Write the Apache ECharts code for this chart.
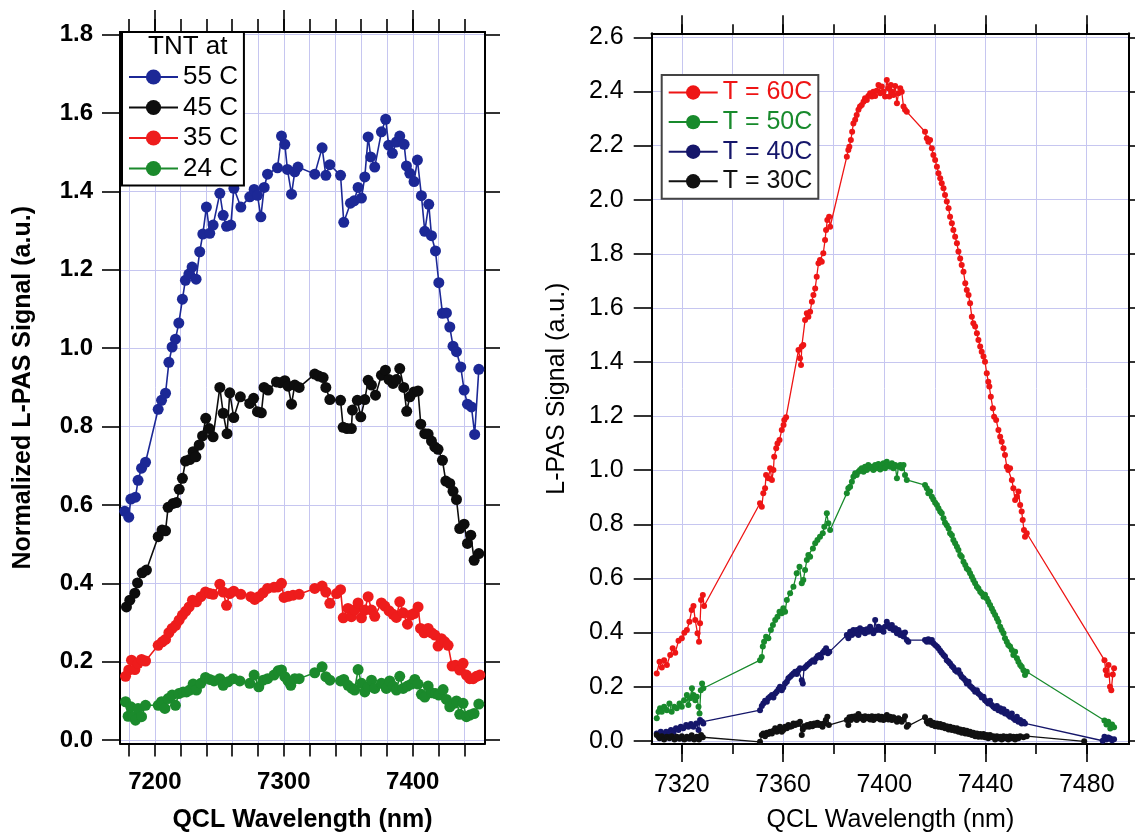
<!DOCTYPE html>
<html><head><meta charset="utf-8">
<script src="https://cdn.jsdelivr.net/npm/echarts@6/dist/echarts.min.js"></script>
<style>html,body{margin:0;padding:0;background:#fff}#c{width:1135px;height:832px}</style>
</head><body><div id="c"></div>
<script>
// ---------- tick / label values ----------
const leftXTicks = [7180,7200,7220,7240,7260,7280,7300,7320,7340,7360,7380,7400,7420,7440];
const leftXLabels = [7200,7300,7400];
const leftYTicks = [0,0.2,0.4,0.6,0.8,1.0,1.2,1.4,1.6,1.8];
const rightXTicks = [7320,7340,7360,7380,7400,7420,7440,7460,7480];
const rightXLabels = [7320,7360,7400,7440,7480];
const rightYTicks = [0,0.2,0.4,0.6,0.8,1.0,1.2,1.4,1.6,1.8,2.0,2.2,2.4,2.6];

// ---------- left panel: TNT at ... ----------
const leftNames = ['55 C','45 C','35 C','24 C'];
const tnt55 = [[7176.7,0.584],[7179.8,0.569],[7181.4,0.615],[7185,0.620],[7187,0.663],[7189.7,0.694],[7192.8,0.709],[7202.6,0.844],[7205.2,0.867],[7208.3,0.885],[7210.9,0.964],[7213.4,1.003],[7216,1.023],[7218.6,1.064],[7221.4,1.125],[7223.7,1.173],[7226.4,1.189],[7228.9,1.207],[7232,1.176],[7234.8,1.246],[7237.2,1.291],[7240,1.36],[7242.6,1.293],[7245.2,1.314],[7250.4,1.395],[7253,1.339],[7255.6,1.311],[7258.9,1.314],[7261.3,1.408],[7266.7,1.36],[7273.6,1.386],[7277,1.405],[7279.6,1.39],[7282.2,1.335],[7284.8,1.41],[7287.4,1.444],[7295.1,1.46],[7298.2,1.541],[7300.8,1.52],[7302.8,1.456],[7306,1.393],[7308.5,1.45],[7311,1.462],[7324,1.444],[7329.7,1.511],[7332.6,1.441],[7335.7,1.468],[7344,1.441],[7346.5,1.321],[7351.7,1.37],[7354.5,1.376],[7357.6,1.41],[7360.2,1.383],[7362.8,1.437],[7365.4,1.539],[7367.4,1.488],[7370.5,1.462],[7375.7,1.552],[7379,1.584],[7381.3,1.518],[7384.2,1.497],[7387.3,1.526],[7389.9,1.541],[7393.3,1.52],[7395.1,1.465],[7397.7,1.446],[7401,1.425],[7403.6,1.48],[7406.7,1.389],[7409.3,1.298],[7412.4,1.367],[7414.5,1.287],[7417.6,1.248],[7420.2,1.167],[7423,1.089],[7426.1,1.09],[7428.7,1.054],[7431.2,1.005],[7433.9,0.991],[7437.2,0.952],[7439.8,0.893],[7442.4,0.857],[7445.5,0.85],[7448,0.78],[7451.2,0.946]];
const tnt45 = [[7178,0.34],[7180.6,0.357],[7184.5,0.375],[7186.6,0.401],[7190.2,0.427],[7193.5,0.434],[7202.6,0.519],[7205.6,0.536],[7208.3,0.534],[7210.3,0.594],[7214.2,0.604],[7216.8,0.606],[7218.9,0.64],[7221.4,0.668],[7223.8,0.712],[7227.1,0.716],[7229.7,0.736],[7231.8,0.723],[7234.4,0.753],[7237,0.776],[7239.5,0.821],[7242.1,0.795],[7245.2,0.774],[7250.4,0.9],[7253,0.834],[7256,0.782],[7258.1,0.886],[7261.2,0.823],[7266.3,0.876],[7273.6,0.859],[7276.6,0.872],[7279.6,0.838],[7282.6,0.835],[7284.7,0.9],[7287.8,0.893],[7294.3,0.914],[7297.3,0.912],[7300.8,0.917],[7303.3,0.903],[7306,0.857],[7308.5,0.906],[7311.9,0.9],[7324,0.934],[7327,0.929],[7330.5,0.925],[7332.6,0.9],[7335.7,0.869],[7344,0.867],[7346,0.798],[7349,0.795],[7352.4,0.795],[7353.2,0.842],[7357,0.867],[7359.7,0.825],[7362.8,0.869],[7365.4,0.918],[7368,0.906],[7371.1,0.88],[7375.7,0.931],[7378.8,0.944],[7381.6,0.92],[7384.7,0.91],[7387.3,0.92],[7389.9,0.948],[7393,0.9],[7395.3,0.839],[7397.7,0.876],[7400.8,0.888],[7404.1,0.891],[7406.2,0.806],[7409.3,0.782],[7411.9,0.781],[7414.5,0.763],[7417.1,0.748],[7419.6,0.742],[7423,0.714],[7425.6,0.661],[7428.7,0.655],[7431.2,0.635],[7433.9,0.614],[7436.4,0.54],[7439.8,0.551],[7442.4,0.502],[7445,0.523],[7447.6,0.459],[7451.2,0.476]];
const tnt35 = [[7177.3,0.163],[7179.8,0.179],[7181.9,0.204],[7184.5,0.18],[7187,0.196],[7189.7,0.206],[7192.8,0.202],[7202.6,0.242],[7205.8,0.251],[7208.3,0.257],[7210.9,0.274],[7213.4,0.285],[7216.2,0.293],[7218.8,0.306],[7221.4,0.319],[7224,0.329],[7226.6,0.34],[7229.2,0.357],[7232.3,0.353],[7235.7,0.366],[7239.3,0.378],[7242.6,0.374],[7245.2,0.372],[7250.4,0.398],[7253,0.378],[7255.6,0.344],[7258.1,0.374],[7261.2,0.38],[7266.7,0.372],[7274.4,0.366],[7277.5,0.359],[7280.6,0.366],[7283.9,0.376],[7287.4,0.387],[7292.4,0.39],[7295.5,0.391],[7298.2,0.4],[7300.2,0.364],[7303.3,0.367],[7307.2,0.37],[7311.9,0.372],[7324,0.387],[7329.7,0.393],[7332.6,0.378],[7335.7,0.349],[7340.9,0.374],[7344,0.384],[7346.1,0.312],[7349.8,0.336],[7352.4,0.315],[7354.9,0.332],[7357.6,0.35],[7360.2,0.312],[7362.8,0.332],[7365.4,0.366],[7368,0.332],[7370.5,0.316],[7375.7,0.35],[7378.3,0.342],[7381.6,0.33],[7384.7,0.321],[7387.3,0.313],[7389.9,0.353],[7392.5,0.325],[7395.9,0.296],[7398.5,0.319],[7401,0.323],[7404.1,0.34],[7406,0.285],[7408.8,0.274],[7411.9,0.285],[7414.5,0.274],[7417.1,0.268],[7419.6,0.24],[7422.2,0.259],[7424.8,0.251],[7427.4,0.242],[7430.5,0.189],[7433.1,0.191],[7436.4,0.179],[7439,0.196],[7441.6,0.166],[7444.2,0.157],[7446.8,0.157],[7449.4,0.163],[7452,0.166]];
const tnt24 = [[7177.3,0.098],[7179.3,0.061],[7181.4,0.085],[7183.2,0.06],[7185,0.051],[7187,0.081],[7189.7,0.06],[7192.8,0.089],[7202.6,0.089],[7205.2,0.098],[7207.8,0.081],[7210.3,0.106],[7213.4,0.115],[7216,0.089],[7218.6,0.119],[7222,0.123],[7224.6,0.123],[7227.1,0.128],[7229.7,0.143],[7232.3,0.128],[7235.7,0.145],[7239.3,0.16],[7242.6,0.155],[7245.9,0.151],[7250.4,0.157],[7253,0.14],[7256.8,0.149],[7260.7,0.157],[7265.9,0.151],[7273.6,0.145],[7277,0.166],[7280.6,0.136],[7284,0.153],[7287.4,0.157],[7292.4,0.166],[7295.6,0.177],[7298.2,0.179],[7300.8,0.162],[7303.3,0.151],[7305.4,0.14],[7308.5,0.157],[7311.9,0.157],[7324,0.172],[7329.7,0.187],[7332.6,0.162],[7335.7,0.153],[7344,0.151],[7346.5,0.155],[7349.8,0.14],[7352.9,0.132],[7354.9,0.128],[7357.6,0.18],[7360.2,0.145],[7362.8,0.123],[7365.4,0.136],[7368,0.153],[7370.5,0.132],[7375.7,0.145],[7379.5,0.132],[7382.1,0.151],[7384.7,0.138],[7387.3,0.128],[7389.9,0.163],[7392.5,0.132],[7395.9,0.138],[7399,0.143],[7401.6,0.155],[7404.1,0.143],[7406.7,0.117],[7409.3,0.11],[7411.9,0.138],[7414.5,0.121],[7417.6,0.119],[7420.2,0.115],[7423.5,0.129],[7426.1,0.104],[7428.7,0.085],[7432,0.094],[7433.9,0.1],[7436.4,0.066],[7439,0.094],[7441.6,0.06],[7444.2,0.064],[7447.5,0.068],[7451.2,0.092]];

// ---------- right panel: T = ... ----------
const rightNames = ['T = 60C','T = 50C','T = 40C','T = 30C'];
const t60 = [[7310.1,0.249],[7311.2,0.292],[7312.1,0.271],[7313,0.298],[7314.1,0.28],[7315.4,0.317],[7316.4,0.342],[7317.4,0.325],[7318.7,0.37],[7320,0.379],[7321,0.399],[7322,0.409],[7323,0.44],[7323.9,0.483],[7324.6,0.498],[7325.3,0.446],[7326.2,0.397],[7326.8,0.366],[7327.2,0.434],[7327.6,0.52],[7328.3,0.539],[7328.8,0.498],[7350.9,0.878],[7351.6,0.865],[7352.2,0.915],[7352.9,0.933],[7353.3,0.982],[7354.2,0.97],[7354.9,1.007],[7355.6,0.964],[7356.2,1.001],[7356.5,1.05],[7357.3,1.081],[7357.8,1.099],[7358.6,1.112],[7359.5,1.149],[7360.2,1.167],[7360.5,1.186],[7361.2,1.196],[7366.1,1.444],[7366.7,1.414],[7367.1,1.389],[7367.4,1.457],[7368,1.463],[7368.7,1.555],[7369.4,1.58],[7370,1.567],[7370.7,1.586],[7371.4,1.623],[7372,1.648],[7372.7,1.672],[7373.3,1.715],[7374,1.765],[7374.6,1.777],[7375.3,1.771],[7375.9,1.802],[7376.6,1.851],[7377,1.888],[7377.5,1.925],[7378.2,1.937],[7378.6,1.9],[7385.2,2.159],[7385.8,2.184],[7386.2,2.196],[7386.8,2.221],[7387.3,2.251],[7387.8,2.282],[7388.5,2.295],[7389.1,2.313],[7389.8,2.332],[7390.4,2.344],[7391.1,2.35],[7391.8,2.362],[7392.4,2.375],[7393.1,2.368],[7393.7,2.383],[7394.4,2.393],[7395.1,2.381],[7395.7,2.399],[7396.4,2.383],[7397,2.403],[7397.7,2.424],[7398.4,2.393],[7399,2.418],[7399.7,2.399],[7400.3,2.381],[7401,2.442],[7401.6,2.412],[7402,2.381],[7402.6,2.424],[7403.1,2.399],[7403.6,2.387],[7404.3,2.42],[7405,2.356],[7405.6,2.393],[7406.3,2.412],[7406.9,2.399],[7407.6,2.344],[7408.2,2.332],[7408.9,2.325],[7416.1,2.251],[7416.8,2.227],[7417.4,2.214],[7418.1,2.221],[7418.8,2.19],[7419.4,2.165],[7420.1,2.147],[7420.8,2.122],[7421.4,2.098],[7422.1,2.079],[7422.7,2.061],[7423.4,2.042],[7424,2.017],[7424.7,1.993],[7425.4,1.968],[7426,1.937],[7426.7,1.913],[7427.3,1.888],[7428,1.863],[7428.7,1.839],[7429.3,1.808],[7430,1.783],[7430.6,1.759],[7431.3,1.734],[7432,1.691],[7432.6,1.666],[7433.3,1.648],[7433.9,1.617],[7434.6,1.567],[7435.2,1.543],[7435.9,1.531],[7436.6,1.506],[7437.2,1.481],[7437.9,1.457],[7438.5,1.438],[7439.2,1.42],[7439.8,1.401],[7440.5,1.358],[7441.1,1.327],[7441.5,1.309],[7442.1,1.272],[7442.9,1.229],[7443.4,1.198],[7444.2,1.186],[7445.1,1.149],[7445.8,1.124],[7446.4,1.105],[7447.1,1.081],[7447.7,1.056],[7448.4,1.013],[7449,1.001],[7449.7,1.007],[7450.4,0.964],[7451,0.933],[7451.7,0.89],[7452.4,0.902],[7453,0.921],[7453.7,0.871],[7454.3,0.847],[7454.7,0.816],[7455.2,0.779],[7455.6,0.754],[7456.3,0.767],[7487,0.298],[7487.5,0.261],[7488,0.243],[7488.6,0.28],[7489.2,0.2],[7489.7,0.187],[7490.3,0.245],[7490.8,0.268]];
const t50 = [[7310.1,0.083],[7310.8,0.107],[7311.4,0.12],[7312.1,0.107],[7313,0.126],[7314.1,0.113],[7315.1,0.138],[7316,0.107],[7317,0.126],[7318,0.12],[7319.1,0.138],[7320,0.126],[7320.9,0.15],[7322,0.169],[7322.6,0.132],[7323.3,0.157],[7324,0.194],[7324.6,0.169],[7325.3,0.15],[7325.9,0.163],[7326.6,0.126],[7327,0.101],[7327.5,0.187],[7328,0.212],[7328.5,0.194],[7350.9,0.298],[7351.6,0.31],[7352,0.348],[7352.5,0.366],[7353.3,0.384],[7354.2,0.379],[7355.2,0.409],[7356,0.428],[7356.9,0.446],[7357.8,0.458],[7358.6,0.477],[7359.5,0.471],[7360.1,0.49],[7360.8,0.477],[7361.5,0.52],[7362.8,0.545],[7364.1,0.569],[7365.4,0.619],[7366.5,0.643],[7367.4,0.582],[7368,0.594],[7368.7,0.631],[7369.4,0.668],[7370,0.687],[7370.7,0.68],[7371.8,0.711],[7372.7,0.73],[7373.6,0.742],[7374.6,0.754],[7375.7,0.767],[7376.3,0.791],[7377.3,0.841],[7377.9,0.804],[7378.6,0.779],[7385.2,0.915],[7385.8,0.933],[7386.5,0.939],[7387.2,0.957],[7387.8,0.976],[7388.5,0.989],[7389.1,0.982],[7389.8,0.994],[7390.4,1.001],[7391.1,1.007],[7391.8,0.994],[7392.4,1.013],[7393.1,1.001],[7393.7,1.019],[7394.4,1.007],[7395.1,1.013],[7395.7,1.001],[7396.4,1.019],[7397,1.007],[7397.7,1.023],[7398.4,1.003],[7399,1.016],[7399.7,1.026],[7400.3,1.007],[7401,1.031],[7401.6,1.019],[7402.3,1.013],[7403,1.026],[7403.6,1.007],[7404.3,1.019],[7405,0.97],[7405.6,1.013],[7406.3,1.019],[7406.9,1.007],[7407.6,1.019],[7408.2,0.982],[7408.9,0.964],[7416.1,0.945],[7416.8,0.933],[7417.4,0.915],[7418.1,0.921],[7418.8,0.902],[7419.4,0.892],[7420.1,0.88],[7420.8,0.871],[7421.4,0.859],[7422.1,0.847],[7422.7,0.841],[7423.4,0.822],[7424,0.806],[7424.7,0.797],[7425.4,0.785],[7426,0.767],[7426.7,0.76],[7427.3,0.742],[7428,0.73],[7428.7,0.717],[7429.3,0.705],[7430,0.687],[7430.6,0.68],[7431.3,0.662],[7432,0.65],[7432.6,0.637],[7433.3,0.631],[7433.9,0.619],[7434.6,0.606],[7435.2,0.594],[7435.9,0.582],[7436.6,0.569],[7437.2,0.563],[7437.9,0.551],[7438.5,0.545],[7439.2,0.532],[7439.8,0.54],[7440.5,0.526],[7441.1,0.514],[7441.8,0.502],[7442.5,0.489],[7443.1,0.477],[7443.8,0.465],[7444.5,0.452],[7445.1,0.44],[7445.8,0.421],[7446.4,0.409],[7447.1,0.397],[7447.7,0.379],[7448.4,0.366],[7449,0.354],[7449.7,0.348],[7450.4,0.335],[7451,0.317],[7451.7,0.329],[7452.4,0.305],[7453,0.292],[7453.7,0.28],[7454.3,0.274],[7455,0.261],[7455.6,0.243],[7456.3,0.255],[7487,0.075],[7487.8,0.06],[7488.5,0.07],[7489.3,0.045],[7490,0.06],[7490.8,0.05]];
const t40 = [[7310.1,0.027],[7310.8,0.015],[7311.7,0.033],[7312.7,0.025],[7313.8,0.033],[7314.7,0.021],[7315.7,0.04],[7316.7,0.03],[7317.7,0.046],[7318.7,0.04],[7319.6,0.052],[7320.6,0.046],[7321.7,0.058],[7322.6,0.052],[7323.6,0.062],[7324.6,0.052],[7325.7,0.064],[7326.6,0.04],[7327.2,0.077],[7328,0.07],[7328.5,0.064],[7350.9,0.113],[7351.6,0.128],[7352.2,0.138],[7352.9,0.148],[7353.6,0.144],[7354.2,0.157],[7354.9,0.163],[7355.6,0.169],[7356.2,0.16],[7356.9,0.175],[7357.5,0.181],[7358.2,0.19],[7358.8,0.2],[7359.5,0.187],[7360.1,0.197],[7360.8,0.212],[7361.5,0.218],[7362.1,0.231],[7362.8,0.237],[7363.5,0.243],[7364.1,0.249],[7364.8,0.255],[7365.4,0.247],[7366.1,0.261],[7366.7,0.268],[7367.4,0.224],[7367.8,0.212],[7368.3,0.268],[7369,0.274],[7369.6,0.28],[7370.4,0.286],[7371.1,0.292],[7371.8,0.298],[7372.4,0.292],[7373.1,0.305],[7373.7,0.313],[7374.4,0.317],[7375,0.308],[7375.7,0.325],[7376.3,0.333],[7377,0.342],[7377.7,0.323],[7378.3,0.329],[7385.2,0.391],[7385.8,0.379],[7386.5,0.403],[7387.2,0.391],[7387.8,0.409],[7388.5,0.397],[7389.1,0.409],[7389.8,0.391],[7390.4,0.416],[7391.1,0.403],[7391.8,0.409],[7392.4,0.397],[7393.1,0.412],[7393.7,0.403],[7394.4,0.421],[7395.1,0.409],[7395.7,0.397],[7396.4,0.446],[7397,0.409],[7397.7,0.421],[7398.4,0.409],[7399,0.416],[7399.7,0.403],[7400.3,0.421],[7401,0.44],[7401.6,0.428],[7402.3,0.416],[7403,0.428],[7403.6,0.409],[7404.3,0.416],[7405,0.397],[7405.6,0.409],[7406.3,0.391],[7406.9,0.397],[7407.6,0.385],[7408.2,0.4],[7408.9,0.372],[7409.5,0.366],[7416.1,0.372],[7416.8,0.366],[7417.4,0.375],[7418.1,0.366],[7418.8,0.372],[7419.4,0.36],[7420.1,0.354],[7420.8,0.348],[7421.4,0.342],[7422.1,0.333],[7422.7,0.325],[7423.4,0.317],[7424,0.311],[7424.7,0.298],[7425.4,0.292],[7426,0.286],[7426.7,0.276],[7427.3,0.271],[7428,0.261],[7428.7,0.255],[7429.3,0.261],[7430,0.247],[7430.6,0.237],[7431.3,0.231],[7432,0.224],[7432.6,0.212],[7433.3,0.218],[7433.9,0.202],[7434.6,0.197],[7435.2,0.19],[7435.9,0.181],[7436.6,0.187],[7437.2,0.175],[7437.9,0.169],[7438.5,0.16],[7439.2,0.163],[7439.8,0.15],[7440.5,0.144],[7441.1,0.138],[7441.8,0.148],[7442.5,0.132],[7443.1,0.126],[7443.8,0.12],[7444.5,0.128],[7445.1,0.113],[7445.8,0.12],[7446.4,0.107],[7447.1,0.116],[7447.7,0.101],[7448.4,0.107],[7449,0.095],[7449.7,0.089],[7450.4,0.101],[7451,0.083],[7451.7,0.077],[7452.4,0.089],[7453,0.07],[7453.7,0.077],[7454.3,0.064],[7455,0.07],[7455.6,0.064],[7486.3,0.0],[7487,0.015],[7487.8,0.005],[7488.5,0.012],[7489.3,0.008],[7490,0.002],[7490.8,0.006]];
const t30 = [[7310.1,0.021],[7311.2,0.009],[7312.1,0.017],[7313,0.005],[7314.1,0.015],[7315.1,0.009],[7316,0.017],[7317.1,0.005],[7318,0.015],[7319.1,0.007],[7320,0.017],[7321,0.005],[7322,0.015],[7323,0.007],[7323.9,0.02],[7324.9,0.005],[7325.9,0.015],[7326.8,0.005],[7327.6,0.021],[7328.3,0.013],[7350.9,-0.004],[7351.6,0.021],[7352.2,0.027],[7352.9,0.017],[7353.6,0.03],[7354.2,0.025],[7354.9,0.033],[7355.6,0.027],[7356.2,0.037],[7356.9,0.046],[7357.5,0.033],[7358.2,0.042],[7358.8,0.052],[7359.5,0.033],[7360.1,0.04],[7360.8,0.052],[7361.5,0.046],[7362.1,0.058],[7362.8,0.052],[7363.5,0.054],[7364.1,0.064],[7364.8,0.058],[7365.4,0.064],[7366.1,0.062],[7366.7,0.07],[7367.4,0.021],[7367.8,0.042],[7368.3,0.054],[7369,0.052],[7369.6,0.058],[7370.3,0.052],[7370.9,0.062],[7371.6,0.054],[7372.3,0.064],[7372.9,0.058],[7373.6,0.067],[7374.2,0.058],[7374.9,0.062],[7375.6,0.052],[7376.2,0.064],[7376.9,0.077],[7377.5,0.089],[7378.1,0.058],[7385.2,0.077],[7385.8,0.058],[7386.2,0.087],[7386.8,0.077],[7387.3,0.089],[7387.8,0.083],[7388.5,0.091],[7389.1,0.077],[7389.8,0.099],[7390.4,0.083],[7391.1,0.089],[7391.8,0.077],[7392.4,0.091],[7393.1,0.083],[7393.7,0.089],[7394.4,0.079],[7395.1,0.091],[7395.7,0.077],[7396.4,0.089],[7397,0.083],[7397.7,0.091],[7398.4,0.079],[7399,0.089],[7399.7,0.077],[7400.3,0.087],[7401,0.095],[7401.6,0.079],[7402.3,0.089],[7403,0.077],[7403.6,0.087],[7404.3,0.079],[7405,0.07],[7405.6,0.083],[7406.3,0.077],[7406.9,0.07],[7407.6,0.079],[7408.2,0.091],[7408.9,0.052],[7409.5,0.058],[7416.1,0.087],[7416.8,0.07],[7417.4,0.064],[7418.1,0.074],[7418.8,0.058],[7419.4,0.067],[7420.1,0.054],[7420.8,0.064],[7421.4,0.052],[7422.1,0.062],[7422.7,0.05],[7423.4,0.058],[7424,0.046],[7424.7,0.054],[7425.4,0.042],[7426,0.052],[7426.7,0.04],[7427.3,0.048],[7428,0.037],[7428.7,0.046],[7429.3,0.033],[7430,0.042],[7430.6,0.03],[7431.3,0.04],[7432,0.027],[7432.6,0.037],[7433.3,0.025],[7433.9,0.033],[7434.6,0.021],[7435.2,0.03],[7435.9,0.017],[7436.6,0.027],[7437.2,0.015],[7437.9,0.025],[7438.5,0.015],[7439.2,0.025],[7439.8,0.013],[7440.5,0.021],[7441.1,0.009],[7441.8,0.021],[7442.5,0.013],[7443.1,0.017],[7443.8,0.005],[7444.5,0.017],[7445.1,0.009],[7445.8,0.015],[7446.4,0.005],[7447.1,0.017],[7447.7,0.009],[7448.4,0.015],[7449,0.005],[7449.7,0.017],[7450.4,0.009],[7451,0.015],[7451.7,0.005],[7452.4,0.015],[7453,0.009],[7453.7,0.017],[7455,0.013],[7456.3,0.017],[7479,-0.002]];

// ---------- styling ----------
const FONT = 'Liberation Sans, Arial, Helvetica, sans-serif';
const GRIDC = '#c6c6f0';
const leftColors = ['#1c2896','#0d0d0d','#ee1c1c','#1b8a2c'];
const rightColors = ['#ee1515','#188a2c','#15166a','#111111'];

function fmt1(v){ return Number(v).toFixed(1); }
function fmt0(v){ return String(Math.round(Number(v))); }

function edgeAxis(gi, pos, min, max, ticks, len, extra) {
  return Object.assign({
    type:'value', gridIndex:gi, position:pos, min:min, max:max,
    axisLine:{show:true, onZero:false, lineStyle:{color:'#000', width:2}},
    axisTick:{show:true, inside:false, length:len, customValues:ticks, lineStyle:{color:'#000', width:1.6}},
    axisLabel:{show:false},
    splitLine:{show:false}
  }, extra||{});
}

const LMIN_X=7173, LMAX_X=7456, LMIN_Y=-0.0085, LMAX_Y=1.8066;
const RMIN_X=7308.1, RMAX_X=7496.7, RMIN_Y=-0.012, RMAX_Y=2.615;

const xAxis = [
  edgeAxis(0,'bottom',LMIN_X,LMAX_X,leftXTicks,13,{
    axisLabel:{show:true, customValues:leftXLabels, formatter:fmt0, margin:27, color:'#000', fontFamily:FONT, fontSize:24, fontWeight:'bold'},
    splitLine:{show:true, lineStyle:{color:GRIDC, width:1}},
    name:'QCL Wavelength (nm)', nameLocation:'middle', nameGap:64,
    nameTextStyle:{color:'#000', fontFamily:FONT, fontSize:25, fontWeight:'bold'}
  }),
  edgeAxis(0,'top',LMIN_X,LMAX_X,leftXLabels,22),
  edgeAxis(0,'top',LMIN_X,LMAX_X,leftXTicks,13),
  edgeAxis(1,'bottom',RMIN_X,RMAX_X,rightXTicks,10,{
    splitLine:{show:true, lineStyle:{color:GRIDC, width:1}}
  }),
  edgeAxis(1,'bottom',RMIN_X,RMAX_X,rightXLabels,18,{
    axisLabel:{show:true, customValues:rightXLabels, formatter:fmt0, margin:29, color:'#000', fontFamily:FONT, fontSize:25},
    name:'QCL Wavelength (nm)', nameLocation:'middle', nameGap:64,
    nameTextStyle:{color:'#000', fontFamily:FONT, fontSize:25}
  }),
  edgeAxis(1,'top',RMIN_X,RMAX_X,rightXLabels,18),
  edgeAxis(1,'top',RMIN_X,RMAX_X,rightXTicks,9)
];

const yAxis = [
  edgeAxis(0,'left',LMIN_Y,LMAX_Y,leftYTicks,18,{
    axisLabel:{show:true, customValues:leftYTicks, formatter:fmt1, margin:27, color:'#000', fontFamily:FONT, fontSize:24, fontWeight:'bold'},
    splitLine:{show:true, lineStyle:{color:GRIDC, width:1}},
    name:'Normalized L-PAS Signal (a.u.)', nameLocation:'middle', nameGap:84,
    nameTextStyle:{color:'#000', fontFamily:FONT, fontSize:25, fontWeight:'bold'}
  }),
  edgeAxis(0,'right',LMIN_Y,LMAX_Y,leftYTicks,15),
  edgeAxis(1,'left',RMIN_Y,RMAX_Y,rightYTicks,18,{
    axisLabel:{show:true, customValues:rightYTicks, formatter:fmt1, margin:28, color:'#000', fontFamily:FONT, fontSize:25},
    splitLine:{show:true, lineStyle:{color:GRIDC, width:1}},
    name:'L-PAS Signal (a.u.)', nameLocation:'middle', nameGap:82,
    nameTextStyle:{color:'#000', fontFamily:FONT, fontSize:25}
  }),
  edgeAxis(1,'right',RMIN_Y,RMAX_Y,rightYTicks,10)
];

function mk(name, data, color, xi, yi, size, lw, z){
  return {name:name, type:'line', xAxisIndex:xi, yAxisIndex:yi, data:data,
    symbol:'circle', symbolSize:size, showSymbol:true, animation:false, z:z,
    lineStyle:{color:color, width:lw}, itemStyle:{color:color}, emphasis:{disabled:true}};
}

const leftData = [tnt55, tnt45, tnt35, tnt24];
const rightData = [t60, t50, t40, t30];
const series = [];
leftData.forEach((d,i)=>series.push(mk(leftNames[i], d, leftColors[i], 0, 0, 11, 1.6, 3)));
rightData.forEach((d,i)=>series.push(mk(rightNames[i], d, rightColors[i], 3, 2, 6, 1.3, 3)));

const option = {
  animation:false,
  backgroundColor:'#fff',
  grid:[
    {left:120, top:32, width:365, height:711.5, containLabel:false, outerBoundsMode:'none'},
    {left:651.7, top:33.3, width:477.3, height:710.7, containLabel:false, outerBoundsMode:'none'}
  ],
  xAxis:xAxis, yAxis:yAxis,
  legend:[
    {orient:'vertical', left:122, top:32, padding:[32,6,4,6], itemWidth:49, itemHeight:19, itemGap:4.5,
     backgroundColor:'#fff', borderColor:'#000', borderWidth:2, selectedMode:false,
     textStyle:{color:'#000', fontFamily:FONT, fontSize:26},
     data:leftNames.map(n=>({name:n}))},
    {orient:'vertical', left:661.7, top:75, padding:[5,6,5,6], itemWidth:49, itemHeight:18, itemGap:4.6,
     backgroundColor:'#fff', borderColor:'#444', borderWidth:2, selectedMode:false,
     textStyle:{fontFamily:FONT, fontSize:25},
     data:rightNames.map((n,i)=>({name:n, textStyle:{color:rightColors[i], fontFamily:FONT, fontSize:25}}))}
  ],
  graphic:[
    {type:'text', z:100, left:148, top:34, style:{text:'TNT at', font:'26px '+FONT, fill:'#000'}}
  ],
  series:series
};

const chart = echarts.init(document.getElementById('c'), null, {renderer:'canvas'});
chart.setOption(option);
</script></body></html>
